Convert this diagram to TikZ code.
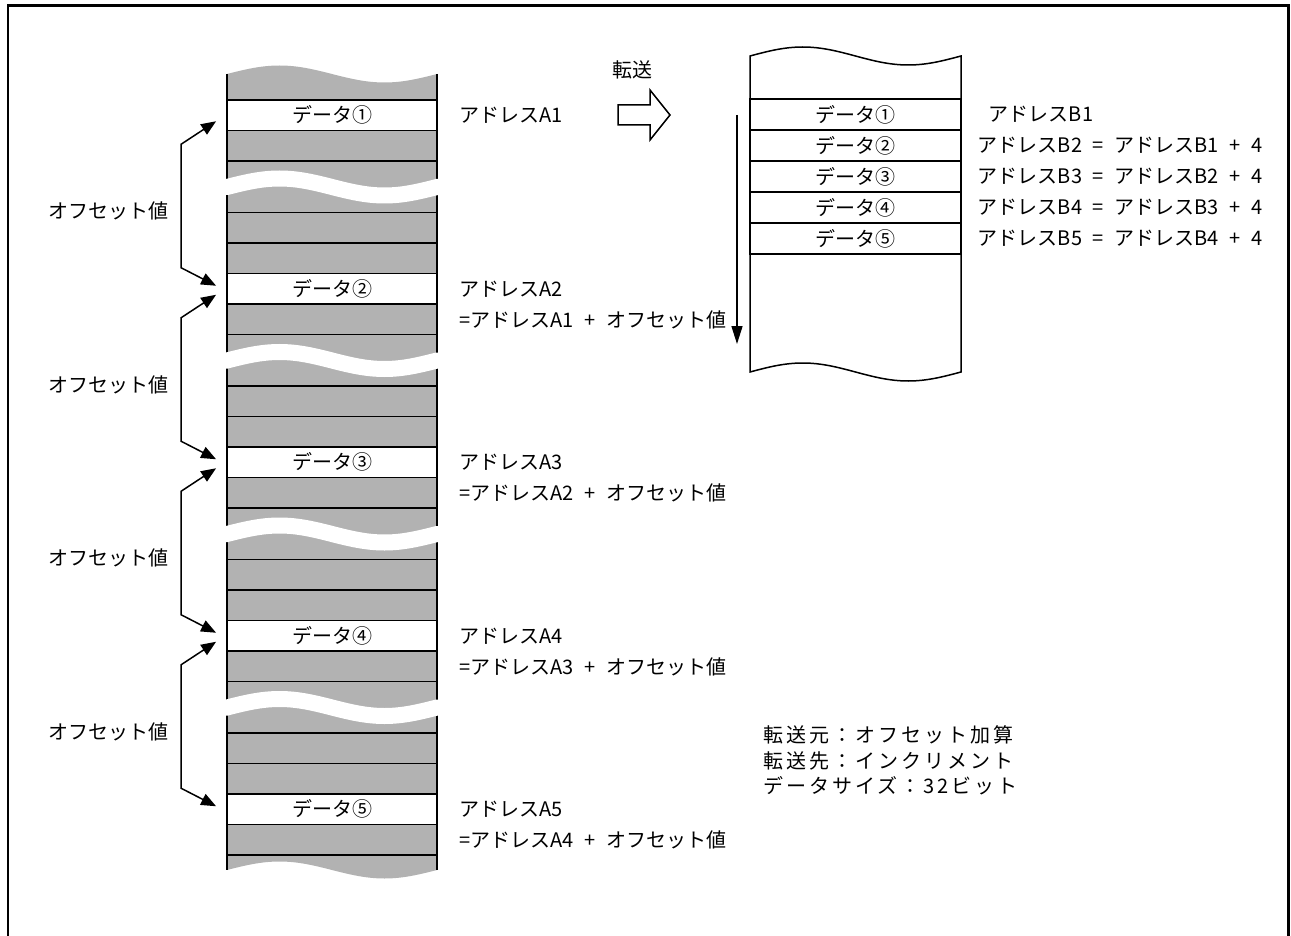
\documentclass[tikz,border=0pt]{standalone}
\usepackage{fontspec}
\setmainfont{Noto Sans CJK JP}
\newfontfamily\sumfont{Noto Sans CJK JP}[WordSpace=2.4]
\newfontfamily\notefont{Noto Sans CJK JP}[LetterSpace=15]
\usepackage{xcolor}
\usetikzlibrary{arrows.meta,positioning,calc}
\definecolor{memgray}{gray}{0.7}
\tikzset{
  memline/.style={line width=1.8pt},
  cellA/.style={draw,fill=white,line width=1.8pt,minimum width=210pt,minimum height=30.5pt,inner sep=0pt},
  cellB/.style={draw,fill=white,line width=1.5pt,minimum width=211pt,minimum height=31pt,inner sep=0pt},
  addr/.style={inner sep=0pt},
  addrsum/.style={inner sep=0pt,font=\fontsize{20}{25.5}\sumfont},
  note/.style={inner sep=0pt,anchor=west,font=\fontsize{20}{25.5}\notefont},
  offarr/.style={line width=1.5pt,{Triangle[length=15pt,width=12pt]}-{Triangle[length=15pt,width=12pt]}},
  incarr/.style={line width=1.5pt,-{Triangle[length=18pt,width=11pt]}},
  gap/.style={white,line width=16pt}
}

\begin{document}
\begin{tikzpicture}[x=1pt,y=-1pt,font=\fontsize{20}{25.5}\selectfont]
\useasboundingbox (0,0) rectangle (1291,936);
\draw[line width=2.6pt] (8,936) -- (8,5.5) -- (1288.5,5.5) -- (1288.5,936);

% source memory (gray)
\fill[memgray] (227,74) sin (279.5,65.5) cos (332,74) sin (384.5,82.5) cos (437,74)
  -- (437,870) sin (384.5,878.5) cos (332,870) sin (279.5,861.5) cos (227,870) -- cycle;
\foreach \y in {130.5,161,212.5,243,304,334.5,386,416.5,477.5,508,559.5,590,651,681.5,733,763.5,824.5,855}
  \draw[memline] (227,\y) -- (437,\y);
\draw[memline] (227,74) -- (227,870);
\draw[memline] (437,74) -- (437,870);
\node[cellA] (a1) at (332,115.25) {データ①};
\node[cellA] (a2) at (332,288.75) {データ②};
\node[cellA] (a3) at (332,462.25) {データ③};
\node[cellA] (a4) at (332,635.75) {データ④};
\node[cellA] (a5) at (332,809.25) {データ⑤};
% breaks
\foreach \y in {187,360.5,534,707.5}
  \draw[gap] (224,\y) -- (227,\y) sin (279.5,{\y-8.5}) cos (332,\y) sin (384.5,{\y+8.5}) cos (437,\y) -- (440,\y);

% offsets
\draw[offarr] ($(a1.west)+(-10,6)$) -- ($(a1.west)+(-45,29)$) -- ($(a2.west)+(-45,-21)$) -- ($(a2.west)+(-10,-3)$);
\draw[offarr] ($(a2.west)+(-10,6)$) -- ($(a2.west)+(-45,29)$) -- ($(a3.west)+(-45,-21)$) -- ($(a3.west)+(-10,-3)$);
\draw[offarr] ($(a3.west)+(-10,6)$) -- ($(a3.west)+(-45,29)$) -- ($(a4.west)+(-45,-21)$) -- ($(a4.west)+(-10,-3)$);
\draw[offarr] ($(a4.west)+(-10,6)$) -- ($(a4.west)+(-45,29)$) -- ($(a5.west)+(-45,-21)$) -- ($(a5.west)+(-10,-3)$);
\node (off1) at (108,211) {オフセット値};
\node (off2) at (108,384.5) {オフセット値};
\node (off3) at (108,558) {オフセット値};
\node (off4) at (108,731.5) {オフセット値};

% source addresses
\node[addr,right=21pt of a1] (la1) {アドレスA1};
\node[addr,right=21pt of a2] (la2) {アドレスA2};
\node[addrsum,anchor=west] (la2b) at ($(la2.west)+(0,31)$) {=アドレスA1 + オフセット値};
\node[addr,right=21pt of a3] (la3) {アドレスA3};
\node[addrsum,anchor=west] (la3b) at ($(la3.west)+(0,31)$) {=アドレスA2 + オフセット値};
\node[addr,right=21pt of a4] (la4) {アドレスA4};
\node[addrsum,anchor=west] (la4b) at ($(la4.west)+(0,31)$) {=アドレスA3 + オフセット値};
\node[addr,right=21pt of a5] (la5) {アドレスA5};
\node[addrsum,anchor=west] (la5b) at ($(la5.west)+(0,31)$) {=アドレスA4 + オフセット値};

% transfer arrow
\draw[line width=1.5pt] (618,105) -- (650,105) -- (650,90) -- (670,115) -- (650,140) -- (650,125) -- (618,125) -- cycle;
\node (xfer) at (632,70) {転送};

% destination memory
\draw[line width=1.5pt,fill=white] (750,56) sin (802.75,47) cos (855.5,56) sin (908.25,65) cos (961,56)
  -- (961,372) sin (908.25,381) cos (855.5,372) sin (802.75,363) cos (750,372) -- cycle;
\node[cellB] (b1) at (855.5,114.5) {データ①};
\node[cellB] (b2) at (855.5,145.5) {データ②};
\node[cellB] (b3) at (855.5,176.5) {データ③};
\node[cellB] (b4) at (855.5,207.5) {データ④};
\node[cellB] (b5) at (855.5,238.5) {データ⑤};
\coordinate (incA) at (737,115);
\coordinate (incB) at (737,344);
\draw[incarr] (incA) -- (incB);

% destination addresses
\node[addr,right=27pt of b1] (lb1) {アドレスB1};
\node[addrsum,right=16pt of b2] (lb2) {アドレスB2 = アドレスB1 + 4};
\node[addrsum,right=16pt of b3] (lb3) {アドレスB3 = アドレスB2 + 4};
\node[addrsum,right=16pt of b4] (lb4) {アドレスB4 = アドレスB3 + 4};
\node[addrsum,right=16pt of b5] (lb5) {アドレスB5 = アドレスB4 + 4};

% settings
\node[note] (n1) at (763,735) {転送元：オフセット加算};
\node[note] (n2) at (763,760.5) {転送先：インクリメント};
\node[note] (n3) at (763,786) {データサイズ：32ビット};
\end{tikzpicture}
\end{document}
